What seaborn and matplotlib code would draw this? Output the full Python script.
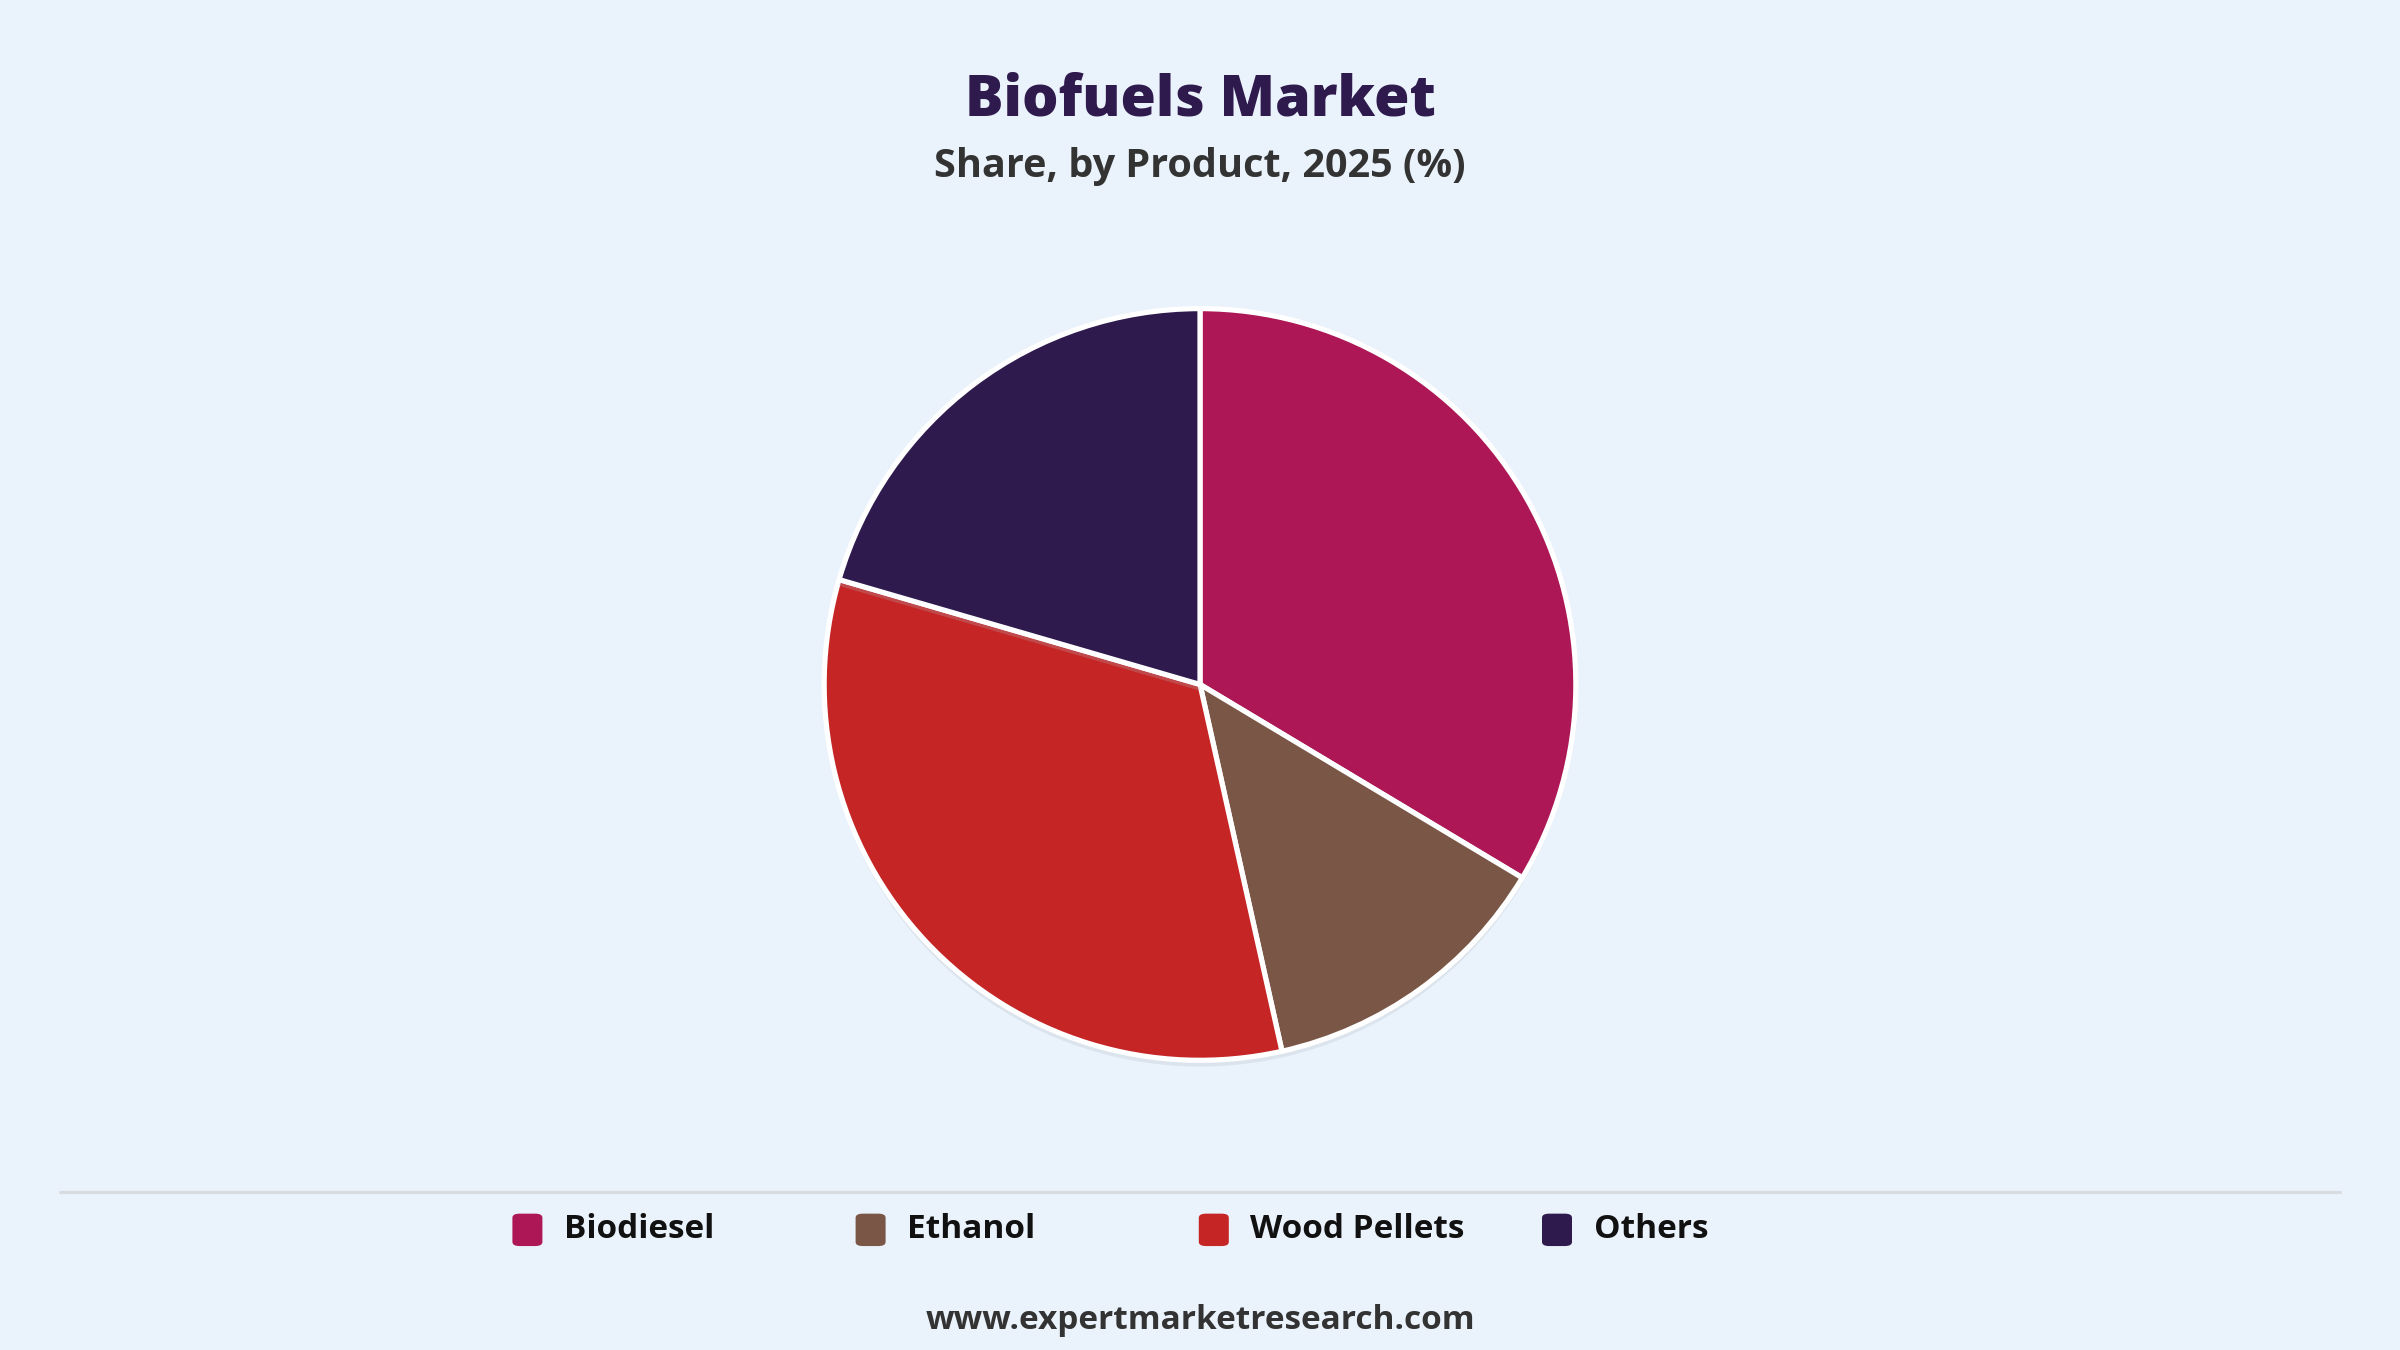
import matplotlib
matplotlib.use("Agg")
import matplotlib.pyplot as plt
import seaborn as sns
from matplotlib.patches import FancyBboxPatch
import matplotlib.patheffects as pe

sns.set_theme(style="white")
plt.rcParams['font.family'] = ['Open Sans', 'DejaVu Sans']

categories = ["Biodiesel", "Ethanol", "Wood Pellets", "Others"]
shares = [33.6, 12.9, 33.0, 20.5]
colors = ["#AD1755", "#7A5646", "#C62525", "#2E1A4C"]
bg = "#EAF2FB"

fig = plt.figure(figsize=(16, 9), dpi=150, facecolor=bg)
ax = fig.add_axes([0.2, 0.493 - 0.348, 0.6, 0.696])
ax.set_facecolor(bg)
wedges, _ = ax.pie(shares, colors=colors, startangle=90, counterclock=False,
                   wedgeprops=dict(edgecolor="white", linewidth=2.5))
for w in wedges:
    w.set_path_effects([pe.SimplePatchShadow(offset=(0, -3), shadow_rgbFace="#B0B8C4", alpha=0.25), pe.Normal()])
ax.set_aspect("equal")

fig.text(0.5, 0.925, "Biofuels Market", ha="center", va="center",
         fontsize=27.5, fontweight="heavy", color="#2E1A4C")
fig.text(0.5, 0.877, "Share, by Product, 2025 (%)", ha="center", va="center",
         fontsize=19, fontweight="bold", color="#333333")

fig.add_artist(plt.Line2D([0.025, 0.975], [0.117, 0.117], color="#D8DCE0", lw=1.5))

x0, dx, y = 0.2135, 0.143, 0.089
for i, lab in enumerate(categories):
    x = x0 + i * dx
    fig.add_artist(FancyBboxPatch((x, y - 0.012), 0.0125, 0.024, boxstyle="round,pad=0,rounding_size=0.003",
                                  transform=fig.transFigure, facecolor=colors[i], edgecolor="none"))
    fig.text(x + 0.0215, y, lab, ha="left", va="center", fontsize=16,
             fontweight="bold", color="#111111")

fig.text(0.5, 0.022, "www.expertmarketresearch.com", ha="center", va="center",
         fontsize=16, fontweight="bold", color="#333333")

fig.savefig("out.png", dpi=150, facecolor=bg)
